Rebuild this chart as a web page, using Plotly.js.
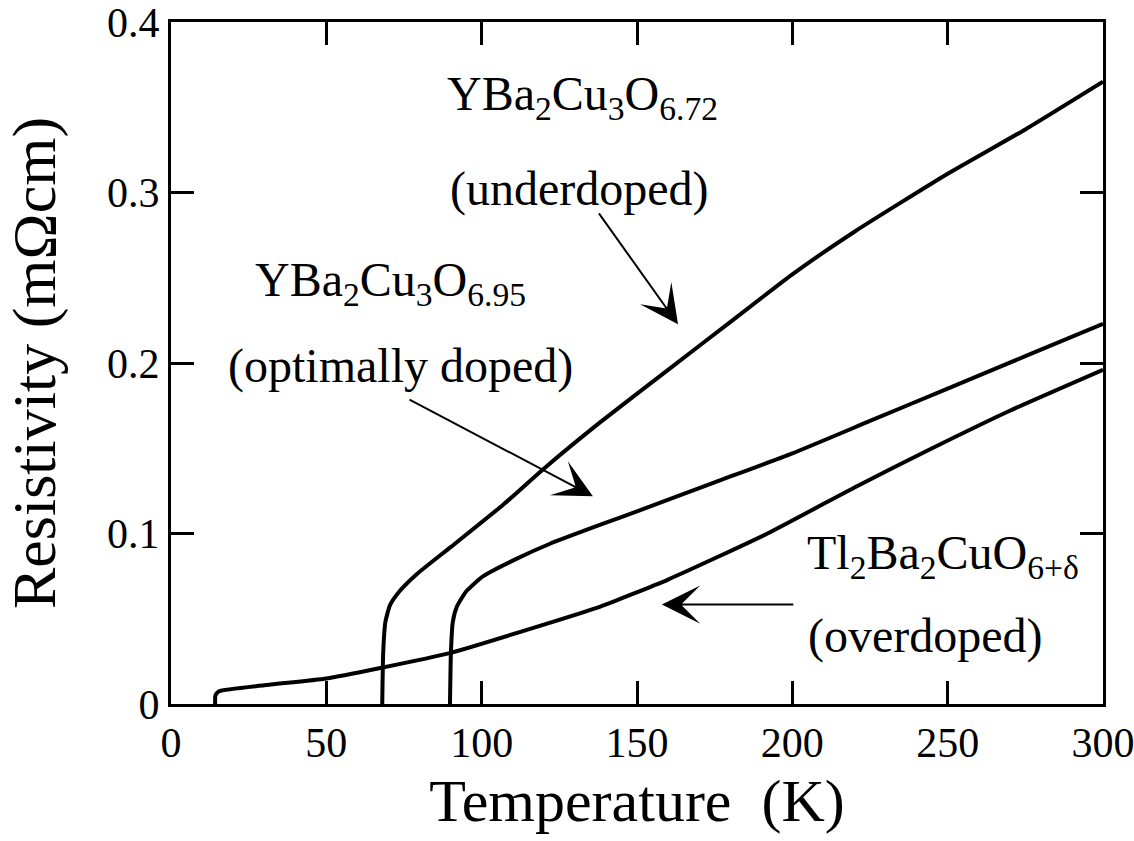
<!DOCTYPE html>
<html>
<head>
<meta charset="utf-8">
<script src="https://cdn.plot.ly/plotly-3.0.1.min.js"></script>
<style>
  html, body { margin: 0; padding: 0; background: #fff; }
  #chart { width: 1134px; height: 841px; }
</style>
</head>
<body>
<div id="chart"></div>
<script>
// In-plane resistivity vs temperature for three cuprates

// YBa2Cu3O6.72 (underdoped)
const underT = [68, 68.3, 69, 70.5, 73.5, 79, 90, 107, 120, 138, 160, 180, 200, 220, 250, 275, 300];
const underR = [0, 0.03, 0.048, 0.058, 0.066, 0.076, 0.092, 0.117, 0.138, 0.165, 0.196, 0.224, 0.252, 0.277, 0.311, 0.337, 0.365];

// YBa2Cu3O6.95 (optimally doped)
const optT = [89.8, 90.1, 90.7, 92, 95, 100.5, 111, 122, 138, 150, 175, 200, 225, 250, 275, 300];
const optR = [0, 0.03, 0.048, 0.057, 0.066, 0.075, 0.085, 0.094, 0.105, 0.113, 0.130, 0.147, 0.166, 0.185, 0.204, 0.223];

// Tl2Ba2CuO6+δ (overdoped)
const overT = [14.2, 14.3, 15.5, 30, 50, 67, 90, 119, 138, 160, 192, 220, 245, 270, 300];
const overR = [0, 0.005, 0.0075, 0.011, 0.015, 0.021, 0.030, 0.046, 0.057, 0.073, 0.100, 0.127, 0.150, 0.172, 0.196];

const xTicks = [0, 50, 100, 150, 200, 250, 300];
const yTicks = [0, 0.1, 0.2, 0.3, 0.4];
const yTickText = ['0', '0.1', '0.2', '0.3', '0.4'];

const serif = '"Liberation Serif", "Times New Roman", Times, serif';

const curve = (x, y, name) => ({
  x, y, name, type: 'scatter', mode: 'lines',
  line: { color: '#000', width: 4, shape: 'spline', smoothing: 0.5 },
  hoverinfo: 'x+y+name'
});

const traces = [
  curve(underT, underR, 'YBa2Cu3O6.72'),
  curve(optT, optR, 'YBa2Cu3O6.95'),
  curve(overT, overR, 'Tl2Ba2CuO6+δ')
];

const label = (x, y, text) => ({
  x, y, xref: 'x', yref: 'y', text, showarrow: false,
  xanchor: 'center', yanchor: 'middle',
  font: { family: serif, size: 48, color: '#000' }
});

const arrow = (x, y, ax, ay) => ({
  x, y, ax, ay, xref: 'x', yref: 'y', axref: 'x', ayref: 'y',
  text: '', showarrow: true, arrowhead: 3, arrowsize: 3.2,
  arrowwidth: 2, arrowcolor: '#000'
});

const layout = {
  width: 1134, height: 841,
  margin: { l: 171, r: 31, t: 22, b: 137 },
  paper_bgcolor: '#fff', plot_bgcolor: '#fff',
  showlegend: false,
  font: { family: serif, color: '#000' },
  xaxis: {
    range: [0, 300], tickvals: xTicks, ticktext: xTicks.map(String),
    ticks: 'inside', ticklen: 23, tickwidth: 3, tickcolor: '#000',
    showline: true, linewidth: 3, linecolor: '#000', mirror: 'ticks',
    showgrid: false, zeroline: false, ticklabeloverflow: 'allow',
    tickfont: { family: serif, size: 42, color: '#000' },
    title: { text: 'Temperature  (K)', font: { family: serif, size: 60, color: '#000' }, standoff: 14 }
  },
  yaxis: {
    range: [0, 0.4], tickvals: yTicks, ticktext: yTickText,
    ticks: 'inside', ticklen: 23, tickwidth: 3, tickcolor: '#000',
    showline: true, linewidth: 3, linecolor: '#000', mirror: 'ticks',
    showgrid: false, zeroline: false, ticklabeloverflow: 'allow',
    tickfont: { family: serif, size: 42, color: '#000' },
    title: { text: 'Resistivity (mΩcm)', font: { family: serif, size: 62, color: '#000' }, standoff: 34 }
  },
  annotations: [
    label(132.6, 0.356, 'YBa<sub>2</sub>Cu<sub>3</sub>O<sub>6.72</sub>'),
    label(131.6, 0.302, '(underdoped)'),
    label(70.8, 0.247, 'YBa<sub>2</sub>Cu<sub>3</sub>O<sub>6.95</sub>'),
    label(74, 0.198, '(optimally doped)'),
    label(248.5, 0.087, 'Tl<sub>2</sub>Ba<sub>2</sub>CuO<sub>6+δ</sub>'),
    label(243, 0.040, '(overdoped)'),
    arrow(163.2, 0.2227, 137.4, 0.2886),
    arrow(135.8, 0.1219, 76.3, 0.179),
    arrow(158.0, 0.0583, 200.8, 0.0583)
  ]
};

Plotly.newPlot('chart', traces, layout, { displayModeBar: false, staticPlot: true });
</script>
</body>
</html>
